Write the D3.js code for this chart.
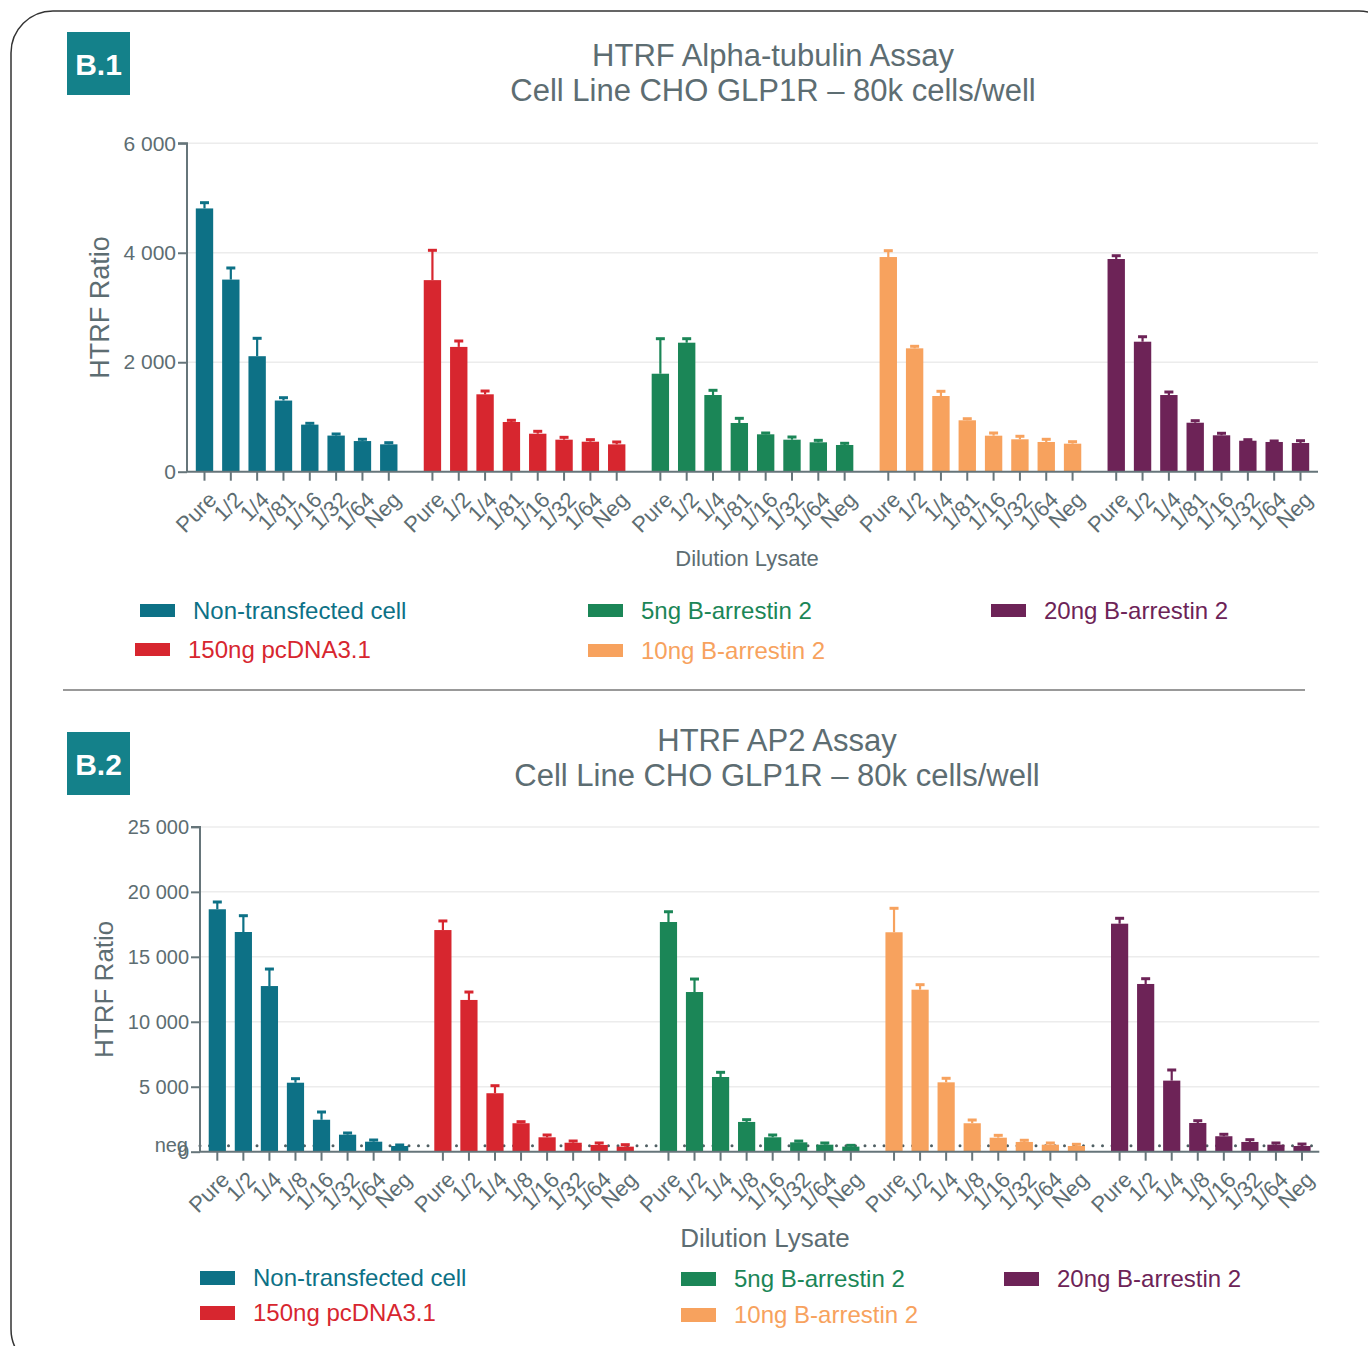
<!DOCTYPE html>
<html>
<head>
<meta charset="utf-8">
<script src="https://cdn.jsdelivr.net/npm/d3@7"></script>
<style>
  body { margin: 0; background: #fff; }
  svg { display: block; font-family: "Liberation Sans", Arial, sans-serif; }
</style>
</head>
<body>
<svg id="chart" width="1368" height="1346"></svg>
<script>
// series / categories
const seriesNames = ["Non-transfected cell", "150ng pcDNA3.1", "5ng B-arrestin 2", "10ng B-arrestin 2", "20ng B-arrestin 2"];
const seriesColors = ["#0d7186", "#d7262f", "#1b8657", "#f7a25e", "#6d2357"];

const dilutionsB1 = ["Pure", "1/2", "1/4", "1/81", "1/16", "1/32", "1/64", "Neg"];
const dilutionsB2 = ["Pure", "1/2", "1/4", "1/8", "1/16", "1/32", "1/64", "Neg"];

// B.1 HTRF Alpha-tubulin: means and SD (upper error bar)
const b1NonTransfected    = [4810, 3510, 2110, 1300, 860, 660, 560, 500];
const b1NonTransfectedSd  = [105, 212, 327, 52, 24, 29, 32, 30];
const b1Pcdna             = [3500, 2280, 1414, 908, 694, 585, 548, 500];
const b1PcdnaSd           = [545, 108, 60, 31, 44, 43, 37, 43];
const b1Arr5              = [1790, 2357, 1401, 890, 683, 585, 537, 488];
const b1Arr5Sd            = [640, 73, 86, 85, 24, 49, 36, 31];
const b1Arr10             = [3922, 2254, 1383, 939, 658, 592, 543, 512];
const b1Arr10Sd           = [116, 37, 86, 29, 49, 55, 49, 36];
const b1Arr20             = [3886, 2375, 1401, 895, 665, 566, 543, 524];
const b1Arr20Sd           = [60, 91, 55, 37, 37, 19, 18, 42];
const b1Ticks = [0, 2000, 4000, 6000];

// B.2 HTRF AP2
const b2NonTransfected    = [18660, 16910, 12750, 5310, 2460, 1310, 770, 440];
const b2NonTransfectedSd  = [560, 1255, 1310, 310, 595, 130, 130, 76];
const b2Pcdna             = [17060, 11680, 4500, 2190, 1110, 690, 520, 390];
const b2PcdnaSd           = [700, 610, 580, 120, 175, 133, 150, 150];
const b2Arr5              = [17680, 12290, 5750, 2290, 1110, 720, 540, 390];
const b2Arr5Sd            = [790, 1000, 360, 175, 175, 100, 130, 100];
const b2Arr10             = [16890, 12470, 5340, 2190, 1080, 750, 540, 440];
const b2Arr10Sd           = [1845, 385, 310, 250, 180, 130, 130, 130];
const b2Arr20             = [17550, 12910, 5470, 2210, 1190, 750, 540, 440];
const b2Arr20Sd           = [415, 405, 820, 175, 150, 175, 130, 150];
const b2Ticks = [0, 5000, 10000, 15000, 20000, 25000];
const b2NegLevel = 450;

const textColor = "#5d6d72";
const axisColor = "#66757a";

const svg = d3.select("#chart");
const fmt = d => d === 0 ? "0" : d3.format(",")(d).replace(/,/g, " ");

// outer frame
svg.append("rect")
    .attr("x", 11).attr("y", 11)
    .attr("width", 1390).attr("height", 1360)
    .attr("rx", 42)
    .attr("fill", "none")
    .attr("stroke", "#333")
    .attr("stroke-width", 1.5);

function drawPanel(cfg) {
    const g = svg.append("g");

    // badge
    g.append("rect")
        .attr("x", 67).attr("y", cfg.badgeY)
        .attr("width", 63).attr("height", 63)
        .attr("fill", "#14818a");
    g.append("text")
        .attr("x", 98.5).attr("y", cfg.badgeY + 32)
        .attr("dy", "0.36em")
        .attr("text-anchor", "middle")
        .attr("fill", "#fff")
        .style("font-size", "30px")
        .style("font-weight", "bold")
        .text(cfg.badge);

    // title
    cfg.title.forEach((t, i) => {
        g.append("text")
            .attr("x", cfg.titleX).attr("y", cfg.titleY + i * 35)
            .attr("text-anchor", "middle")
            .attr("dy", "0.35em")
            .attr("fill", textColor)
            .style("font-size", "31px")
            .text(t);
    });

    const x0 = d3.scaleBand()
        .domain(seriesNames)
        .range(cfg.xRange)
        .paddingInner(0.076)
        .paddingOuter(0.019);
    const x1 = d3.scaleBand()
        .domain(cfg.dilutions)
        .range([0, x0.bandwidth()])
        .paddingInner(0.34)
        .paddingOuter(0.17);
    const y = d3.scaleLinear()
        .domain([0, cfg.ticks[cfg.ticks.length - 1]])
        .range(cfg.yRange);

    // grid
    g.append("g")
        .selectAll("line")
        .data(cfg.ticks.slice(1))
        .enter().append("line")
        .attr("x1", cfg.xRange[0]).attr("x2", cfg.xRange[1])
        .attr("y1", d => y(d)).attr("y2", d => y(d))
        .attr("stroke", "#ececec")
        .attr("stroke-width", 1.5);

    // neg dotted line (behind bars)
    if (cfg.negLevel != null) {
        g.append("line")
            .attr("x1", cfg.xRange[0]).attr("x2", cfg.xRange[1])
            .attr("y1", y(cfg.negLevel)).attr("y2", y(cfg.negLevel))
            .attr("stroke", "#4f5f63")
            .attr("stroke-width", 3)
            .attr("stroke-linecap", "round")
            .attr("stroke-dasharray", "0,9.5");
    }

    // bars + error bars
    const rows = [];
    cfg.series.forEach((s, si) => {
        s.mean.forEach((v, di) => {
            rows.push({ series: seriesNames[si], color: seriesColors[si], dil: cfg.dilutions[di], value: v, sd: s.sd[di] });
        });
    });

    const bars = g.append("g").selectAll("g")
        .data(rows)
        .enter().append("g")
        .attr("transform", d => `translate(${x0(d.series) + x1(d.dil)},0)`);

    bars.append("line")
        .attr("x1", x1.bandwidth() / 2).attr("x2", x1.bandwidth() / 2)
        .attr("y1", d => y(d.value)).attr("y2", d => y(d.value + d.sd))
        .attr("stroke", d => d.color)
        .attr("stroke-width", 2.2);
    bars.append("line")
        .attr("x1", x1.bandwidth() / 2 - 4.5).attr("x2", x1.bandwidth() / 2 + 4.5)
        .attr("y1", d => y(d.value + d.sd)).attr("y2", d => y(d.value + d.sd))
        .attr("stroke", d => d.color)
        .attr("stroke-width", 3);
    bars.append("rect")
        .attr("x", 0)
        .attr("y", d => y(d.value))
        .attr("width", x1.bandwidth())
        .attr("height", d => y(0) - y(d.value))
        .attr("fill", d => d.color);

    // y axis
    const yAxis = g.append("g")
        .attr("transform", `translate(${cfg.xRange[0]},0)`)
        .call(d3.axisLeft(y).tickValues(cfg.ticks).tickFormat(fmt).tickSize(9).tickPadding(2))
        .call(a => a.select(".domain").attr("d", `M-9,${y.range()[1]}H0V${y.range()[0]}`));
    yAxis.selectAll("path, line").attr("stroke", axisColor).attr("stroke-width", 2);
    yAxis.selectAll("text")
        .attr("fill", textColor)
        .style("font-size", cfg.tickFont)
        .style("font-family", "'Liberation Sans', Arial, sans-serif");

    if (cfg.negLevel != null) {
        g.append("text")
            .attr("x", cfg.xRange[0] - 12).attr("y", y(cfg.negLevel))
            .attr("dy", "0.32em")
            .attr("text-anchor", "end")
            .attr("fill", textColor)
            .style("font-size", cfg.tickFont)
            .text("neg");
    }

    // x axis: baseline + ticks per bar
    g.append("line")
        .attr("x1", cfg.xRange[0]).attr("x2", cfg.xRange[1])
        .attr("y1", y(0)).attr("y2", y(0))
        .attr("stroke", axisColor).attr("stroke-width", 2);

    const xt = g.append("g").selectAll("g")
        .data(rows)
        .enter().append("g")
        .attr("transform", d => `translate(${x0(d.series) + x1(d.dil) + x1.bandwidth() / 2},${y(0)})`);
    xt.append("line")
        .attr("y1", 0).attr("y2", 9)
        .attr("stroke", axisColor).attr("stroke-width", 2);
    xt.append("text")
        .attr("transform", "translate(8,24) rotate(-45)")
        .attr("text-anchor", "end")
        .attr("dy", "0.35em")
        .attr("fill", textColor)
        .style("font-size", "22px")
        .text(d => d.dil);

    // axis titles
    g.append("text")
        .attr("transform", `translate(${cfg.yTitleX},${(y.range()[0] + y.range()[1]) / 2}) rotate(-90)`)
        .attr("text-anchor", "middle")
        .attr("dy", "0.35em")
        .attr("fill", textColor)
        .style("font-size", cfg.yTitleFont)
        .text("HTRF Ratio");
    g.append("text")
        .attr("x", cfg.xTitle[0]).attr("y", cfg.xTitle[1])
        .attr("text-anchor", "middle")
        .attr("dy", "0.35em")
        .attr("fill", textColor)
        .style("font-size", cfg.xTitleFont)
        .text("Dilution Lysate");

    // legend
    const leg = g.append("g").selectAll("g")
        .data(cfg.legend)
        .enter().append("g")
        .attr("transform", d => `translate(${d[0]},${d[1]})`);
    leg.append("rect")
        .attr("width", 35).attr("height", cfg.swatchH)
        .attr("fill", (d, i) => seriesColors[i]);
    leg.append("text")
        .attr("x", 53).attr("y", cfg.swatchH / 2)
        .attr("dy", "0.35em")
        .attr("fill", (d, i) => seriesColors[i])
        .style("font-size", "24px")
        .text((d, i) => seriesNames[i]);
}

drawPanel({
    badge: "B.1", badgeY: 32,
    title: ["HTRF Alpha-tubulin Assay", "Cell Line CHO GLP1R \u2013 80k cells/well"],
    titleX: 773, titleY: 55,
    dilutions: dilutionsB1,
    series: [
        { mean: b1NonTransfected, sd: b1NonTransfectedSd },
        { mean: b1Pcdna, sd: b1PcdnaSd },
        { mean: b1Arr5, sd: b1Arr5Sd },
        { mean: b1Arr10, sd: b1Arr10Sd },
        { mean: b1Arr20, sd: b1Arr20Sd }
    ],
    ticks: b1Ticks,
    xRange: [187, 1318], yRange: [471.7, 143.3],
    tickFont: "21px",
    yTitleX: 100, yTitleFont: "27px",
    xTitle: [747, 558], xTitleFont: "22px",
    legend: [[140, 604], [135, 643], [588, 604], [588, 644], [991, 604]],
    swatchH: 13
});

// separator
svg.append("line")
    .attr("x1", 63).attr("x2", 1305)
    .attr("y1", 690).attr("y2", 690)
    .attr("stroke", "#777").attr("stroke-width", 1.5);

drawPanel({
    badge: "B.2", badgeY: 732,
    title: ["HTRF AP2 Assay", "Cell Line CHO GLP1R \u2013 80k cells/well"],
    titleX: 777, titleY: 740,
    dilutions: dilutionsB2,
    series: [
        { mean: b2NonTransfected, sd: b2NonTransfectedSd },
        { mean: b2Pcdna, sd: b2PcdnaSd },
        { mean: b2Arr5, sd: b2Arr5Sd },
        { mean: b2Arr10, sd: b2Arr10Sd },
        { mean: b2Arr20, sd: b2Arr20Sd }
    ],
    ticks: b2Ticks,
    negLevel: b2NegLevel,
    xRange: [200, 1319.3], yRange: [1151.7, 826.9],
    tickFont: "20px",
    yTitleX: 104, yTitleFont: "26px",
    xTitle: [765, 1238], xTitleFont: "26px",
    legend: [[200, 1271], [200, 1306], [681, 1272], [681, 1308], [1004, 1272]],
    swatchH: 14
});
</script>
</body>
</html>
